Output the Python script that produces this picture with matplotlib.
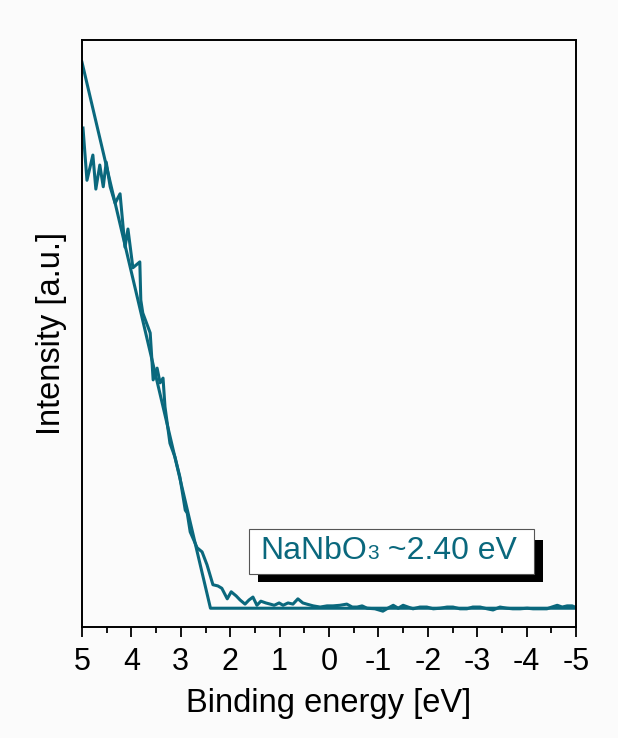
import matplotlib
matplotlib.use("Agg")
import matplotlib.pyplot as plt
from matplotlib.ticker import MultipleLocator, FuncFormatter
from matplotlib.patches import Rectangle

plt.rcParams['font.family'] = ['Liberation Sans', 'DejaVu Sans']

# measured spectrum (binding energy in eV, intensity in arb. units)
energy = [4.98, 4.90, 4.78, 4.72, 4.64, 4.57, 4.51, 4.43, 4.33, 4.23,
          4.13, 4.07, 3.97, 3.83, 3.81, 3.77, 3.62, 3.56, 3.48, 3.42,
          3.36, 3.32, 3.22, 3.12, 3.02, 2.91, 2.87, 2.81, 2.67, 2.57,
          2.47, 2.35, 2.25, 2.17, 2.06, 1.98, 1.88, 1.80, 1.70, 1.62,
          1.54, 1.46, 1.38, 1.28, 1.19, 1.11, 1.01, 0.93, 0.83, 0.73,
          0.63, 0.53, 0.45, 0.32, 0.18, 0.04, -0.08, -0.22, -0.36, -0.47,
          -0.57, -0.67, -0.77, -0.93, -1.09, -1.19, -1.30, -1.40, -1.50, -1.60,
          -1.70, -1.84, -1.98, -2.11, -2.25, -2.39, -2.51, -2.65, -2.79, -2.91,
          -3.06, -3.20, -3.32, -3.46, -3.60, -3.72, -3.87, -4.01, -4.13, -4.27,
          -4.41, -4.51, -4.62, -4.72, -4.82, -4.92, -4.98]
intensity = [0.850, 0.761, 0.804, 0.746, 0.787, 0.750, 0.792, 0.750, 0.722, 0.738,
             0.647, 0.678, 0.612, 0.622, 0.557, 0.535, 0.501, 0.421, 0.441, 0.416,
             0.424, 0.375, 0.313, 0.290, 0.256, 0.199, 0.194, 0.162, 0.135, 0.128,
             0.106, 0.072, 0.070, 0.066, 0.048, 0.060, 0.053, 0.046, 0.039, 0.046,
             0.051, 0.037, 0.044, 0.041, 0.039, 0.037, 0.041, 0.037, 0.041, 0.039,
             0.048, 0.041, 0.039, 0.036, 0.034, 0.036, 0.036, 0.037, 0.039, 0.034,
             0.034, 0.036, 0.032, 0.031, 0.027, 0.032, 0.037, 0.032, 0.037, 0.034,
             0.031, 0.034, 0.034, 0.031, 0.032, 0.034, 0.034, 0.031, 0.031, 0.034,
             0.034, 0.031, 0.029, 0.034, 0.032, 0.031, 0.031, 0.032, 0.031, 0.031,
             0.031, 0.034, 0.037, 0.034, 0.036, 0.036, 0.034]

# linear band-edge fit plus flat baseline
fit_energy = [5.0, 2.40, -5.0]
fit_intensity = [0.962, 0.032, 0.032]

teal = '#0a687d'
bg = '#fbfbfb'

fig = plt.figure(figsize=(6.18, 7.38), dpi=100, facecolor=bg)
ax = fig.add_axes([0.1327, 0.1504, 0.7994, 0.7954], facecolor=bg)

ax.plot(fit_energy, fit_intensity, color=teal, lw=2.2)
ax.plot(energy, intensity, color=teal, lw=2.2)

ax.set_xlim(5, -5)
ax.set_ylim(0, 1)
ax.xaxis.set_major_locator(MultipleLocator(1))
ax.xaxis.set_minor_locator(MultipleLocator(0.5))
ax.xaxis.set_major_formatter(FuncFormatter(lambda v, p: f"{v:g}"))
ax.tick_params(axis='x', which='major', direction='out', length=7.5, width=1.3,
               labelsize=22, pad=7, top=False)
ax.tick_params(axis='x', which='minor', direction='out', length=4, width=1.3, top=False)
ax.set_yticks([])
for s in ax.spines.values():
    s.set_linewidth(1.4)

ax.set_xlabel('Binding energy [eV]', fontsize=23.5, labelpad=8)
ax.set_ylabel('Intensity [a.u.]', fontsize=23.5, labelpad=11)

# label box with drop shadow
ax.add_patch(Rectangle((0.356, 0.077), 0.577, 0.071, transform=ax.transAxes,
                       facecolor='black', edgecolor='none', zorder=4))
ax.add_patch(Rectangle((0.338, 0.090), 0.577, 0.077, transform=ax.transAxes,
                       facecolor='white', edgecolor='#555555', lw=0.8, zorder=5))
base_y = 0.116
t1 = ax.text(0.362, base_y, 'NaNbO', transform=ax.transAxes, fontsize=23,
             color=teal, va='baseline', ha='left', zorder=6)
fig.canvas.draw()
r = fig.canvas.get_renderer()
bb = t1.get_window_extent(r).transformed(ax.transAxes.inverted())
t2 = ax.text(bb.x1, base_y, '3', transform=ax.transAxes, fontsize=15,
             color=teal, va='baseline', ha='left', zorder=6)
bb2 = t2.get_window_extent(r).transformed(ax.transAxes.inverted())
ax.text(bb2.x1, base_y, ' ~2.40 eV', transform=ax.transAxes, fontsize=23,
        color=teal, va='baseline', ha='left', zorder=6)

fig.savefig('out.png', dpi=100, facecolor=bg)
